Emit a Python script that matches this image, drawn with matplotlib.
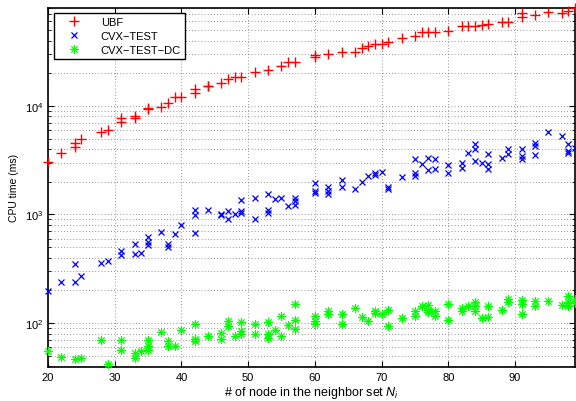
import numpy as np
import matplotlib
matplotlib.use("Agg")
import matplotlib.pyplot as plt
from matplotlib.path import Path
from matplotlib.ticker import LogLocator, NullFormatter, FixedLocator

plt.rcParams['font.family'] = ['Liberation Sans', 'DejaVu Sans']
plt.rcParams['mathtext.fontset'] = 'custom'
plt.rcParams['mathtext.rm'] = 'Liberation Sans'
plt.rcParams['mathtext.it'] = 'Liberation Sans:italic'

# UBF
ubf_x = [20, 22, 24, 24, 25, 28, 29, 31, 31, 33, 33, 35, 35, 37, 38, 39, 40, 42, 42, 44,
         44, 46, 47, 48, 49, 51, 53, 55, 56, 57, 60, 60, 62, 64, 66, 67, 68, 69, 70, 71,
         73, 75, 76, 77, 78, 80, 82, 83, 84, 85, 86, 88, 89, 91, 91, 93, 95, 97, 98, 99]
ubf_y = [3070, 3710, 4520, 4220, 5000, 5750, 5980, 7800, 7120, 8090, 7700, 9320, 9500, 9670,
         10700, 11960, 12200, 14250, 13100, 15100, 15300, 16100, 17600, 18500, 18500, 20600,
         21500, 23400, 25100, 25100, 28000, 29400, 30000, 31600, 31600, 33900, 35800, 37000,
         37200, 38500, 41900, 43600, 47600, 47600, 47600, 48700, 54100, 55000, 54000, 56000,
         57000, 59700, 59700, 65500, 71200, 68700, 73800, 72000, 75000, 79000]

# CVX-TEST
cvx_x = [20, 22, 24, 25, 24, 28, 29, 31, 31, 33, 33, 34, 35, 35, 35, 37, 38, 38, 39, 40,
         42, 42, 42, 44, 46, 46, 47, 47, 48, 49, 49, 49, 51, 51, 53, 53, 53, 54, 55, 56,
         57, 57, 57, 60, 60, 60, 62, 62, 62, 64, 64, 66, 67, 68, 69, 69, 70, 71, 71, 73,
         75, 75, 75, 76, 77, 77, 78, 78, 80, 80, 82, 82, 83, 84, 84, 84, 85, 86, 86, 86,
         88, 89, 89, 91, 91, 91, 93, 93, 93, 95, 97, 98, 98, 98, 99]
cvx_y = [196, 239, 239, 269, 353, 357, 371, 458, 427, 536, 436, 445, 623, 555, 528, 692, 536,
         504, 664, 796, 1096, 980, 678, 1096, 1000, 980, 1080, 900, 1000, 1030, 1080, 1355,
         1425, 910, 1530, 1110, 1030, 1380, 1425, 1190, 1425, 1330, 1230, 1930, 1640, 1560,
         1800, 1640, 1530, 2060, 1800, 1700, 1980, 2260, 2390, 2330, 2480, 1800, 1730, 2210,
         3220, 2430, 2260, 2900, 3330, 2550, 3270, 2600, 2830, 2430, 3000, 2700, 3710, 4500,
         4050, 3100, 3000, 3580, 2900, 2640, 3330, 3980, 3580, 3980, 3450, 3270, 4590, 4270,
         3500, 5760, 5280, 4430, 3850, 3720, 4130]

# CVX-TEST-DC
dc_x = [20, 22, 24, 25, 28, 29, 31, 31, 33, 33, 34, 35, 35, 35, 37, 38, 38, 39, 40, 42,
        42, 42, 44, 46, 46, 47, 47, 48, 49, 49, 49, 51, 51, 53, 53, 53, 54, 55, 55, 56,
        57, 57, 57, 60, 60, 60, 62, 62, 64, 64, 66, 67, 68, 69, 69, 70, 71, 71, 73, 75,
        75, 76, 77, 77, 77, 78, 78, 80, 80, 82, 82, 83, 84, 84, 84, 85, 86, 86, 88, 89,
        89, 91, 91, 91, 93, 93, 95, 97, 98, 98, 98, 99, 99]
dc_y = [54.7, 48.5, 46.5, 47.6, 70, 42, 70, 57, 53.5, 47.6, 55.6, 70, 61, 56, 83, 68.4, 61,
        61, 86.7, 98, 71.4, 68.4, 76, 81, 71, 105, 93, 75.5, 101.6, 84, 79.5, 98.5, 79.5,
        101.6, 79.5, 72.6, 85.6, 75.5, 116, 96.4, 150, 107, 88, 115, 103.4, 98.5, 128, 122,
        122, 98, 138, 114, 103.4, 128, 124, 122, 131, 94.6, 111, 128, 116, 145, 147.5, 132,
        126, 128, 116, 151, 107, 138, 128, 143, 156, 143, 128, 111, 145, 114, 131, 167, 156,
        164, 151, 122, 160, 145, 160, 147.5, 177, 156, 143, 167, 153]

# asterisk marker: plus and cross strokes
a = 0.7071
star = Path([(-1, 0), (1, 0), (0, -1), (0, 1), (-a, -a), (a, a), (-a, a), (a, -a)],
            [Path.MOVETO, Path.LINETO] * 4)

fig = plt.figure(figsize=(5.76, 4.02), dpi=100)
ax = fig.add_axes([0.0833, 0.085, 0.915, 0.893])

ax.plot(ubf_x, ubf_y, ls='none', marker='+', ms=7.5, mew=1.0, color='#ff0000',
        label='UBF', clip_on=False, zorder=3)
ax.plot(cvx_x, cvx_y, ls='none', marker='x', ms=4.8, mew=0.9, color='#0000ff',
        label='CVX\u2212TEST', clip_on=False, zorder=3)
ax.plot(dc_x, dc_y, ls='none', marker=star, ms=6.5, mew=0.9, mfc='none', color='#00ff00',
        label='CVX\u2212TEST\u2212DC', clip_on=False, zorder=3)

ax.set_yscale('log')
ax.set_xlim(20, 99)
ax.set_ylim(39.5, 80000)
ax.xaxis.set_major_locator(FixedLocator([20, 30, 40, 50, 60, 70, 80, 90]))
ax.yaxis.set_major_locator(LogLocator(base=10, numticks=10))
ax.yaxis.set_minor_locator(LogLocator(base=10, subs=np.arange(2, 10), numticks=10))
ax.yaxis.set_minor_formatter(NullFormatter())

ax.grid(True, which='major', axis='both', ls=(0, (1, 3.5)), color='#333333', lw=0.5)
ax.grid(True, which='minor', axis='y', ls=(0, (1, 3.5)), color='#333333', lw=0.5)
ax.tick_params(which='both', direction='in', top=True, right=True, labelsize=8)
ax.tick_params(which='major', length=4)
ax.tick_params(which='minor', length=2)
for s in ax.spines.values():
    s.set_linewidth(1.2)

ax.set_xlabel('# of node in the neighbor set $N_i$', fontsize=9, labelpad=2)
ax.set_ylabel('CPU time (ms)', fontsize=7.5, labelpad=4)

leg = ax.legend(loc='upper left', fontsize=8, fancybox=False, framealpha=1,
                edgecolor='k', borderaxespad=0.5, handlelength=3.0, handletextpad=0.9,
                labelspacing=0.35, borderpad=0.35)
leg.get_frame().set_linewidth(1.0)
leg.set_zorder(5)

fig.savefig('out.png', dpi=100)
